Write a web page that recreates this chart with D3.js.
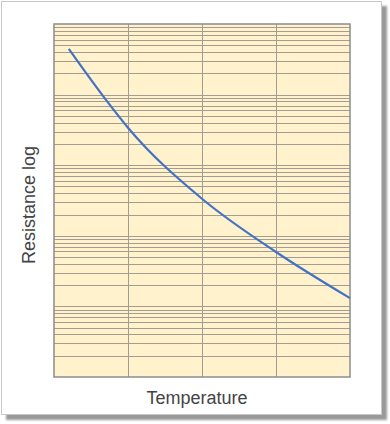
<!DOCTYPE html>
<html>
<head>
  <meta charset="utf-8">
  <script src="https://d3js.org/d3.v7.min.js"></script>
  <style>
    body { margin:0; background:#fff; }
  </style>
</head>
<body>
  <script>
    // values
    var temps = [5, 17.5, 25, 50, 75, 100];
    var resist = [44500, 8500, 3400, 335, 59, 13.1];
    var xTicks = [0, 25, 50, 75, 100];
    var xLabel = "Temperature";
    var yLabel = "Resistance log";

    var margin = {top: 24, right: 40, bottom: 47, left: 54};
    var width = 390 - margin.left - margin.right;   // 296
    var height = 424 - margin.top - margin.bottom;  // 353

    var svg = d3.select("body").append("svg")
      .attr("width", 390)
      .attr("height", 424);

    // card with shadow
    var defs = svg.append("defs");
    var blur = defs.append("filter").attr("id", "sh")
      .attr("x", "-5%").attr("y", "-5%").attr("width", "110%").attr("height", "110%");
    blur.append("feGaussianBlur").attr("stdDeviation", 1.2);

    svg.append("rect")
      .attr("x", 6).attr("y", 6).attr("width", 381).attr("height", 414)
      .attr("fill", "#999").attr("filter", "url(#sh)");
    svg.append("rect")
      .attr("x", 1.5).attr("y", 1.5).attr("width", 380).attr("height", 413)
      .attr("fill", "#fff").attr("stroke", "#c8c8c8").attr("stroke-width", 1);

    var g = svg.append("g").attr("transform", "translate(" + margin.left + "," + margin.top + ")");

    var x = d3.scaleLinear().domain([0, 100]).range([0, width]);
    var y = d3.scaleLog().domain([1, 1e5]).range([height, 0]);

    g.append("rect")
      .attr("width", width).attr("height", height)
      .attr("fill", "#fff2cc");

    // log grid: every integer multiple within each decade
    var yGrid = y.ticks().filter(function(v){ return v > 1 && v < 1e5; });
    g.append("g").selectAll("line")
      .data(yGrid)
      .enter().append("line")
      .attr("x1", 0).attr("x2", width)
      .attr("y1", function(d){ return Math.round(y(d)) + 0.5; })
      .attr("y2", function(d){ return Math.round(y(d)) + 0.5; })
      .attr("stroke", "#a39d91").attr("stroke-width", 1);

    g.append("g").selectAll("line")
      .data(xTicks.slice(1, -1))
      .enter().append("line")
      .attr("x1", function(d){ return Math.round(x(d)) + 0.5; })
      .attr("x2", function(d){ return Math.round(x(d)) + 0.5; })
      .attr("y1", 0).attr("y2", height)
      .attr("stroke", "#a39d91").attr("stroke-width", 1);

    g.append("rect")
      .attr("x", 0).attr("y", 0).attr("width", width).attr("height", height)
      .attr("fill", "none").attr("stroke", "#8c8c8c").attr("stroke-width", 1.5);

    var pts = temps.map(function(t, i){ return [t, resist[i]]; });
    var line = d3.line()
      .x(function(d){ return x(d[0]); })
      .y(function(d){ return y(d[1]); })
      .curve(d3.curveMonotoneX);

    g.append("path")
      .datum(pts)
      .attr("d", line)
      .attr("fill", "none")
      .attr("stroke", "#4472c4")
      .attr("stroke-width", 2.2);

    svg.append("text").text(xLabel)
      .attr("x", 197).attr("y", 404)
      .attr("text-anchor", "middle")
      .attr("font-family", "Liberation Sans, Arial, sans-serif")
      .attr("font-size", "18px")
      .attr("fill", "#444");

    svg.append("text").text(yLabel)
      .attr("transform", "translate(35,205) rotate(-90)")
      .attr("text-anchor", "middle")
      .attr("font-family", "Liberation Sans, Arial, sans-serif")
      .attr("font-size", "18px")
      .attr("fill", "#444");
  </script>
</body>
</html>
